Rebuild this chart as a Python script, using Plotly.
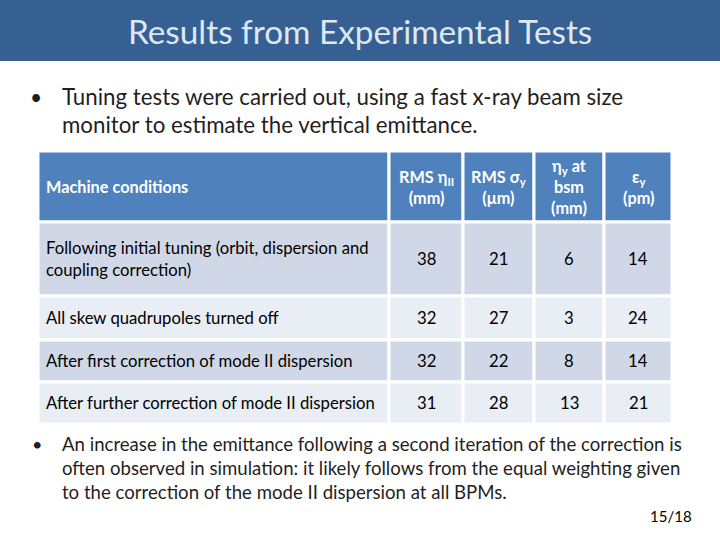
import plotly.graph_objects as go

# table content
header_labels = [
    "Machine conditions",
    "RMS η<sub>II</sub><br>(mm)",
    "RMS σ<sub>y</sub><br>(μm)",
    "η<sub>y</sub> at<br>bsm<br>(mm)",
    "ε<sub>y</sub><br>(pm)",
]
conditions = [
    "Following initial tuning (orbit, dispersion and<br>coupling correction)",
    "All skew quadrupoles turned off",
    "After first correction of mode II dispersion",
    "After further correction of mode II dispersion",
]
rms_eta = [38, 32, 32, 31]
rms_sigma = [21, 27, 22, 28]
eta_bsm = [6, 3, 8, 13]
eps_y = [14, 24, 14, 21]

title_text = "Results from Experimental Tests"
bullet1 = ["Tuning tests were carried out, using a fast x-ray beam size",
           "monitor to estimate the vertical emittance."]
bullet2 = ["An increase in the emittance following a second iteration of the correction is",
           "often observed in simulation: it likely follows from the equal weighting given",
           "to the correction of the mode II dispersion at all BPMs."]
page_label = "15/18"

# layout (pixel units on a hidden 720x540 axis pair)
col_edges = [38, 389, 463, 534, 604, 672]
row_edges = [151, 222, 296, 340, 382, 424]
HEADER_BG = "#4F81BD"
ROW_BG = ["#D0D8E8", "#E9EDF4"]
FONT = "Lato"
TEXT_DARK = "#1F1F1F"

fig = go.Figure()
fig.add_trace(go.Scatter(x=[0, 720], y=[0, 540], mode="markers",
                         marker=dict(opacity=0), hoverinfo="skip", showlegend=False))

shapes = []
annotations = []

# title bar
shapes.append(dict(type="rect", x0=0, x1=720, y0=0, y1=61, xref="x", yref="y",
                   fillcolor="#376092", line=dict(width=0), layer="below"))
annotations.append(dict(x=360, y=31, text=title_text, showarrow=False,
                        font=dict(family=FONT, size=33.3, color="#DDE8F5"),
                        xanchor="center", yanchor="middle"))

# first bullet
annotations.append(dict(x=28, y=96, text="•", showarrow=False, xanchor="left",
                        yanchor="middle", font=dict(family=FONT, size=21, color=TEXT_DARK)))
for i, line in enumerate(bullet1):
    annotations.append(dict(x=60, y=96 + 28 * i, text=line, showarrow=False,
                            xanchor="left", yanchor="middle",
                            font=dict(family=FONT, size=22.3, color=TEXT_DARK)))

# table rows: header + body
body = [[conditions[i], rms_eta[i], rms_sigma[i], eta_bsm[i], eps_y[i]]
        for i in range(len(conditions))]
rows = [header_labels] + body
for r, row in enumerate(rows):
    y0, y1 = row_edges[r], row_edges[r + 1]
    fill = HEADER_BG if r == 0 else ROW_BG[(r - 1) % 2]
    for c, val in enumerate(row):
        x0, x1 = col_edges[c], col_edges[c + 1]
        shapes.append(dict(type="rect", x0=x0, x1=x1, y0=y0, y1=y1, xref="x", yref="y",
                           fillcolor=fill, line=dict(color="white", width=3), layer="below"))
        if r == 0:
            txt = "<b>%s</b>" % val
            color = "white"
            size = 16.3
        else:
            txt = str(val)
            color = "black"
            size = 16.7
        if c == 0:
            annotations.append(dict(x=x0 + 6, y=(y0 + y1) / 2, text=txt, showarrow=False,
                                    xanchor="left", yanchor="middle", align="left",
                                    font=dict(family=FONT, size=size, color=color)))
        else:
            annotations.append(dict(x=(x0 + x1) / 2, y=(y0 + y1) / 2, text=txt,
                                    showarrow=False, xanchor="center", yanchor="middle",
                                    align="center",
                                    font=dict(family=FONT, size=size, color=color)))

# second bullet
annotations.append(dict(x=30, y=444, text="•", showarrow=False, xanchor="left",
                        yanchor="middle", font=dict(family=FONT, size=18, color=TEXT_DARK)))
for i, line in enumerate(bullet2):
    annotations.append(dict(x=60, y=444 + 24 * i, text=line, showarrow=False,
                            xanchor="left", yanchor="middle",
                            font=dict(family=FONT, size=18.6, color=TEXT_DARK)))

annotations.append(dict(x=694, y=516, text=page_label, showarrow=False,
                        xanchor="right", yanchor="middle",
                        font=dict(family=FONT, size=15, color="black")))

fig.update_layout(
    width=720, height=540,
    margin=dict(l=0, r=0, t=0, b=0),
    paper_bgcolor="white", plot_bgcolor="white",
    xaxis=dict(range=[0, 720], visible=False, fixedrange=True),
    yaxis=dict(range=[540, 0], visible=False, fixedrange=True),
    shapes=shapes, annotations=annotations,
    showlegend=False,
)

# drop the page's default body margin so the figure sits at the window corner
fig.write_html("out.html", config={"displayModeBar": False},
               post_script="document.body.style.margin='0';")
